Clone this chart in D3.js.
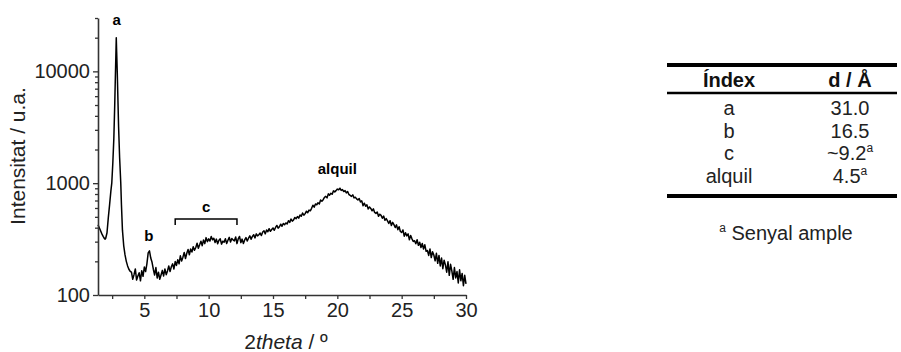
<!DOCTYPE html>
<html>
<head>
<meta charset="utf-8">
<script src="https://cdn.jsdelivr.net/npm/d3@7"></script>
<style>
  body { margin: 0; background: #fff; }
  svg { display: block; font-family: "Liberation Sans", Arial, sans-serif; }
</style>
</head>
<body>
<svg id="chart" width="901" height="352"></svg>
<script>
// main diffraction peak region, read point by point: [2theta, counts]
const peakRegion = [
  [1.4, 425], [1.5, 400], [1.6, 375], [1.7, 352], [1.8, 334], [1.9, 320], [1.95, 316],
  [2.0, 322], [2.1, 360], [2.2, 490], [2.3, 640], [2.4, 850], [2.47, 1000], [2.55, 1500],
  [2.63, 2500], [2.7, 5000], [2.75, 9000], [2.79, 14000], [2.82, 20000], [2.85, 15000],
  [2.9, 9500], [2.95, 5500], [3.0, 3200], [3.08, 1700], [3.17, 1000], [3.22, 650],
  [3.3, 380], [3.4, 275], [3.5, 228], [3.6, 200], [3.7, 182], [3.8, 170], [3.9, 163]
];

// rest of the scan, 4.0 .. 30.0 deg, step 0.1 deg
const scanStart = 4.0, scanStep = 0.1;
const scanCounts = [
  160, 138, 152, 171, 136, 148, 158, 134, 165, 147,
  178, 162, 190, 238, 248, 214, 196, 170, 151, 176,
  142, 160, 138, 151, 166, 148, 171, 152, 164, 182,
  162, 179, 190, 171, 199, 184, 207, 190, 224, 201,
  218, 240, 212, 236, 255, 229, 258, 242, 270, 251,
  266, 290, 262, 281, 303, 276, 311, 288, 326, 300,
  318, 304, 334, 312, 322, 295, 316, 287, 309, 318,
  285, 303, 296, 318, 289, 309, 328, 298, 320, 311,
  305, 330, 288, 318, 334, 294, 316, 289, 311, 326,
  304, 322, 338, 315, 334, 346, 324, 352, 338, 346,
  358, 340, 366, 375, 352, 381, 368, 392, 371, 385,
  398, 379, 402, 419, 396, 408, 430, 412, 436, 425,
  441, 432, 462, 446, 478, 458, 470, 494, 481, 503,
  487, 520, 506, 541, 517, 534, 562, 545, 575, 566,
  596, 634, 611, 652, 641, 668, 652, 706, 690, 712,
  748, 762, 739, 802, 781, 812, 796, 854, 836, 858,
  886, 872, 902, 861, 876, 842, 858, 818, 842, 792,
  779, 762, 786, 738, 748, 724, 707, 729, 680, 694,
  628, 662, 621, 640, 588, 613, 594, 566, 590, 548,
  537, 552, 506, 528, 515, 486, 508, 466, 482, 460,
  436, 462, 418, 446, 426, 401, 424, 384, 408, 370,
  362, 382, 336, 360, 338, 352, 312, 341, 318, 301,
  306, 287, 312, 278, 296, 266, 289, 258, 281, 246,
  250, 226, 258, 216, 244, 228, 202, 236, 192, 226,
  182, 214, 172, 205, 186, 160, 198, 150, 188, 164,
  138, 176, 142, 162, 128, 168, 134, 156, 121, 150,
  126
];

const xTicks = [5, 10, 15, 20, 25, 30];
const xMinorTicks = [2.5, 7.5, 12.5, 17.5, 22.5, 27.5];
const yTicks = [100, 1000, 10000];
const yMinorTicks = [200, 300, 400, 500, 600, 700, 800, 900,
                     2000, 3000, 4000, 5000, 6000, 7000, 8000, 9000, 20000, 30000];

// peak labels, anchored in data units
const peakLabels = [
  { text: 'a', theta: 2.85, counts: 26000 },
  { text: 'b', theta: 5.35, counts: 304 },
  { text: 'c', theta: 9.8, counts: 553 },
  { text: 'alquil', theta: 20.0, counts: 1208 }
];
const bracketC = { from: 7.4, to: 12.2, counts: 478 };

// table
const tableHeader = ['Índex', 'd / Å'];
const tableIndex = ['a', 'b', 'c', 'alquil'];
const tableD = ['31.0', '16.5', '~9.2', '4.5'];
const tableNote = [false, false, true, true];
const footnote = 'Senyal ample';

let margin = {top: 18, left: 98},
    width = 368,
    height = 277;

let x = d3.scaleLinear().domain([1.4, 30]).range([margin.left, margin.left + width]);
let y = d3.scaleLog().domain([100, 30000]).range([margin.top + height, margin.top]);

let svg = d3.select('#chart');

let pts = peakRegion.concat(scanCounts.map((c, i) => [scanStart + i * scanStep, c]));

let line = d3.line()
    .x((d) => x(d[0]))
    .y((d) => y(d[1]));

svg.append('path')
    .datum(pts)
    .attr('fill', 'none')
    .attr('stroke', '#000')
    .attr('stroke-width', 1.5)
    .attr('stroke-linejoin', 'round')
    .attr('d', line);

// axes
let xAxis = svg.append('g')
    .attr('transform', 'translate(0,' + (margin.top + height) + ')')
    .call(d3.axisBottom(x).tickValues(xTicks).tickSize(4).tickSizeOuter(0).tickPadding(4));
xAxis.append('g')
    .call(d3.axisBottom(x).tickValues(xMinorTicks).tickSize(4).tickFormat(''))
    .select('.domain').remove();

let yAxis = svg.append('g')
    .attr('transform', 'translate(' + margin.left + ',0)')
    .call(d3.axisLeft(y).tickValues(yTicks).tickFormat(d3.format('d')).tickSize(5).tickSizeOuter(0).tickPadding(3));
yAxis.append('g')
    .call(d3.axisLeft(y).tickValues(yMinorTicks).tickSize(3).tickFormat(''))
    .select('.domain').remove();

svg.selectAll('.domain').attr('stroke', '#333').attr('stroke-width', 1.6);
svg.selectAll('.tick line').attr('stroke', '#333').attr('stroke-width', 1.3);
svg.selectAll('.tick text')
    .attr('fill', '#222')
    .style('font-size', '20px')
    .style('font-family', '"Liberation Sans", Arial, sans-serif');
xAxis.selectAll('.tick text').attr('dy', '0.72em');

// axis titles
svg.append('text')
    .attr('transform', 'translate(25,156) rotate(-90)')
    .attr('text-anchor', 'middle')
    .attr('fill', '#222')
    .style('font-size', '21px')
    .text('Intensitat / u.a.');

let xt = svg.append('text')
    .attr('x', 286).attr('y', 349)
    .attr('text-anchor', 'middle')
    .attr('fill', '#222')
    .style('font-size', '21px');
xt.append('tspan').text('2');
xt.append('tspan').style('font-style', 'italic').text('theta');
xt.append('tspan').text(' / º');

// peak labels
svg.selectAll('.plabel')
    .data(peakLabels)
  .enter().append('text')
    .attr('class', 'plabel')
    .attr('x', (d) => x(d.theta))
    .attr('y', (d) => y(d.counts))
    .attr('text-anchor', 'middle')
    .attr('font-weight', 'bold')
    .style('font-size', '15px')
    .text((d) => d.text);

let by = y(bracketC.counts);
svg.append('path')
    .attr('fill', 'none')
    .attr('stroke', '#000')
    .attr('stroke-width', 1.5)
    .attr('d', 'M' + x(bracketC.from) + ',' + (by + 6) + 'V' + by + 'H' + x(bracketC.to) + 'V' + (by + 6));

// table
let tx0 = 667, tx1 = 897, col1 = 729, col2 = 850;
let rowY = d3.scaleLinear().domain([0, 1]).range([115, 137.7]);

let table = svg.append('g').style('font-size', '20px').attr('fill', '#222');

table.append('line').attr('x1', tx0).attr('x2', tx1).attr('y1', 65).attr('y2', 65)
    .attr('stroke', '#000').attr('stroke-width', 4);
table.append('line').attr('x1', tx0).attr('x2', tx1).attr('y1', 93).attr('y2', 93)
    .attr('stroke', '#000').attr('stroke-width', 2.5);
table.append('line').attr('x1', tx0).attr('x2', tx1).attr('y1', 196).attr('y2', 196)
    .attr('stroke', '#000').attr('stroke-width', 4);

table.selectAll('.hdr')
    .data(tableHeader)
  .enter().append('text')
    .attr('x', (d, i) => i === 0 ? col1 : col2)
    .attr('y', 87)
    .attr('text-anchor', 'middle')
    .attr('font-weight', 'bold')
    .attr('fill', '#111')
    .text((d) => d);

table.selectAll('.idx')
    .data(tableIndex)
  .enter().append('text')
    .attr('x', col1)
    .attr('y', (d, i) => rowY(i))
    .attr('text-anchor', 'middle')
    .text((d) => d);

let dcells = table.selectAll('.dval')
    .data(tableD)
  .enter().append('text')
    .attr('x', col2)
    .attr('y', (d, i) => rowY(i))
    .attr('text-anchor', 'middle');
dcells.append('tspan').text((d) => d);
dcells.filter((d, i) => tableNote[i])
  .append('tspan')
    .attr('dy', -8)
    .style('font-size', '12px')
    .text('a');

let fn = table.append('text')
    .attr('x', 786).attr('y', 240)
    .attr('text-anchor', 'middle');
fn.append('tspan').attr('dy', -8).style('font-size', '12px').text('a');
fn.append('tspan').attr('dy', 8).text(' ' + footnote);
</script>
</body>
</html>
